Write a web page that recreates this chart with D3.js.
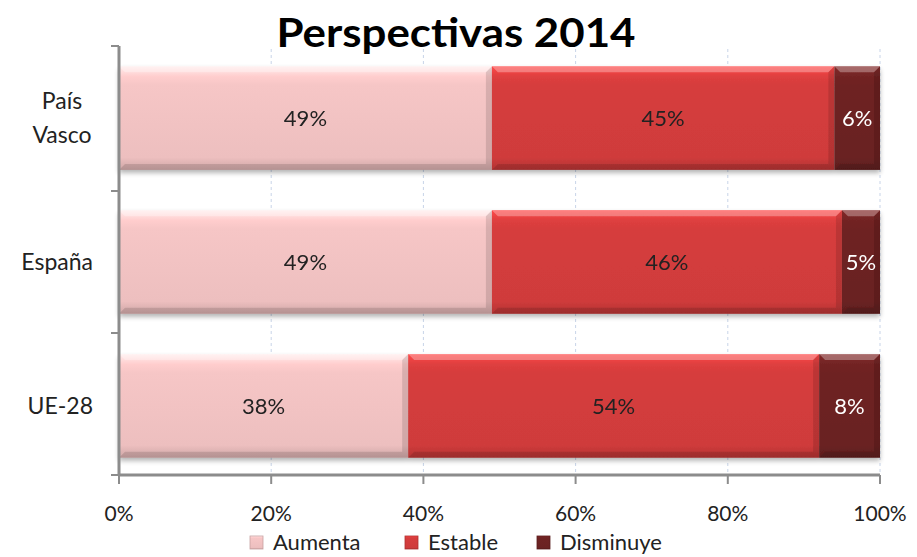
<!DOCTYPE html>
<html><head><meta charset="utf-8">
<script src="https://cdn.jsdelivr.net/npm/d3@7"></script>
<style>body{margin:0;background:#fff;} svg{display:block;font-family:Lato,"Open Sans",sans-serif;}</style>
</head><body><svg id="c" width="917" height="557"></svg>
<script>
const categories = ["País Vasco","España","UE-28"];
const seriesNames = ["Aumenta","Estable","Disminuye"];
const aumenta = [49,49,38];
const estable = [45,46,54];
const disminuye = [6,5,8];
const xTicks = [0,20,40,60,80,100];
const colors = ["#f6c6c6","#d63d3d","#6e2323"];
const labelColors = ["#222","#222","#fff"];

const svg = d3.select("#c");
const W=917,H=557;
const m={left:119,right:37,top:49,bottom:82};
const x=d3.scaleLinear().domain([0,100]).range([m.left,W-m.right]);
const y=d3.scaleBand().domain(categories).range([m.top,H-m.bottom]).paddingInner(0.28).paddingOuter(0.12);

const defs=svg.append("defs");
colors.forEach((c,i)=>{
  const g=defs.append("linearGradient").attr("id","g"+i).attr("x1",0).attr("y1",0).attr("x2",0).attr("y2",1);
  const cc=d3.color(c);
  g.append("stop").attr("offset","0%").attr("stop-color",cc.brighter(0.5));
  g.append("stop").attr("offset","10%").attr("stop-color",cc.brighter(0.1));
  g.append("stop").attr("offset","18%").attr("stop-color",c);
  g.append("stop").attr("offset","88%").attr("stop-color",cc.darker(0.1));
  g.append("stop").attr("offset","100%").attr("stop-color",cc.darker(0.5));
});
const sh=defs.append("filter").attr("id","sh").attr("x","-5%").attr("y","-10%").attr("width","110%").attr("height","130%");
sh.append("feGaussianBlur").attr("in","SourceAlpha").attr("stdDeviation",2.5);
sh.append("feOffset").attr("dy",3).attr("result","b");
sh.append("feComponentTransfer").append("feFuncA").attr("type","linear").attr("slope",0.3);
const mg=sh.append("feMerge");mg.append("feMergeNode");mg.append("feMergeNode").attr("in","SourceGraphic");

// title
svg.append("text").attr("x",456).attr("y",47).attr("text-anchor","middle")
  .attr("font-size",40).attr("font-weight","bold").attr("fill","#000")
  .attr("textLength",359).attr("lengthAdjust","spacingAndGlyphs").text("Perspectivas 2014");

// gridlines
svg.append("g").selectAll("line").data(xTicks.slice(1)).join("line")
  .attr("x1",d=>x(d)).attr("x2",d=>x(d)).attr("y1",m.top).attr("y2",H-m.bottom)
  .attr("stroke","#c8d4e8").attr("stroke-width",1).attr("stroke-dasharray","3,3");

// bars
const data=categories.map((c,i)=>({cat:c,vals:[aumenta[i],estable[i],disminuye[i]]}));
const rows=svg.append("g").selectAll("g").data(data).join("g").attr("filter","url(#sh)");
rows.each(function(d){
  let acc=0;
  const segs=d.vals.map((v,k)=>{const s={k,v,x0:acc,x1:acc+v};acc+=v;return s;});
  const g=d3.select(this);
  const y0=y(d.cat),bh=y.bandwidth();
  g.selectAll("rect").data(segs).join("rect")
    .attr("x",s=>x(s.x0)).attr("y",y0).attr("width",s=>x(s.x1)-x(s.x0)).attr("height",bh)
    .attr("fill",s=>"url(#g"+s.k+")");
  g.selectAll("path.bev").data(segs).join("path").attr("class","bev")
    .attr("d",s=>{const a=x(s.x0),b=x(s.x1),t=y0,e=6;
      return `M${a},${t}L${b},${t}L${b-e},${t+e}L${a+e},${t+e}Z`;})
    .attr("fill","#fff").attr("opacity",0.3);
  g.selectAll("path.bevl").data(segs).join("path").attr("class","bevl")
    .attr("d",s=>{const a=x(s.x0),b=x(s.x1),t=y0,u=y0+bh,e=6;
      return `M${b},${t}L${b},${u}L${b-e},${u-e}L${b-e},${t+e}Z M${a},${u}L${b},${u}L${b-e},${u-e}L${a+e},${u-e}Z`;})
    .attr("fill","#000").attr("opacity",0.12);
  g.selectAll("text").data(segs).join("text")
    .attr("x",s=>(x(s.x0)+x(s.x1))/2).attr("y",y0+bh/2+8).attr("text-anchor","middle")
    .attr("font-size",22).attr("fill",s=>labelColors[s.k]).text(s=>s.v+"%");
});

// axes
const axc="#8c8c8c";
svg.append("line").attr("x1",x(0)).attr("x2",x(0)).attr("y1",m.top-3).attr("y2",H-m.bottom).attr("stroke",axc).attr("stroke-width",3);
svg.append("line").attr("x1",x(0)-1).attr("x2",x(100)).attr("y1",H-m.bottom).attr("y2",H-m.bottom).attr("stroke",axc).attr("stroke-width",3);
const yb=[m.top-3,m.top+(H-m.bottom-m.top)/3,m.top+2*(H-m.bottom-m.top)/3,H-m.bottom];
svg.append("g").selectAll("line").data(yb).join("line")
  .attr("x1",x(0)-8).attr("x2",x(0)).attr("y1",d=>d).attr("y2",d=>d).attr("stroke",axc).attr("stroke-width",2);
svg.append("g").selectAll("line").data(xTicks).join("line")
  .attr("x1",d=>x(d)).attr("x2",d=>x(d)).attr("y1",H-m.bottom).attr("y2",H-m.bottom+9).attr("stroke",axc).attr("stroke-width",2);
svg.append("g").selectAll("text").data(xTicks).join("text")
  .attr("x",d=>x(d)).attr("y",H-m.bottom+46).attr("text-anchor","middle").attr("font-size",21).attr("fill","#222")
  .text(d=>d+"%");

// category labels
data.forEach(d=>{
  const cy=y(d.cat)+y.bandwidth()/2;
  const words=d.cat==="País Vasco"?["País","Vasco"]:[d.cat];
  const t=svg.append("text").attr("font-size",23).attr("fill","#222")
    .attr("text-anchor",words.length>1?"middle":"end");
  words.forEach((w,i)=>{
    t.append("tspan").attr("x",words.length>1?62:93)
     .attr("y",cy+8+(i-(words.length-1)/2)*34).text(w);
  });
});

// legend
const lx=[250,405,537];
const lg=svg.append("g").selectAll("g").data(seriesNames).join("g")
  .attr("transform",(d,i)=>`translate(${lx[i]},${H-7})`);
lg.append("rect").attr("x",0).attr("y",-14).attr("width",13).attr("height",13).attr("fill",(d,i)=>"url(#g"+i+")")
  .attr("stroke",(d,i)=>d3.color(colors[i]).darker(0.6)).attr("stroke-width",0.8);
lg.append("text").attr("x",23).attr("y",0).attr("font-size",22).attr("fill","#222").text(d=>d);
</script></body></html>
